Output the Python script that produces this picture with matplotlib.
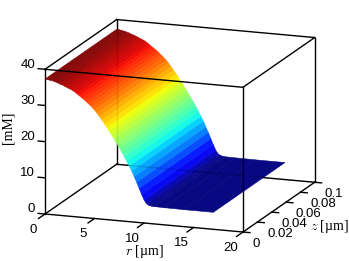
import numpy as np
import matplotlib
matplotlib.use('Agg')
from matplotlib import pyplot as plt
from matplotlib import cm
from mpl_toolkits.mplot3d import proj3d

plt.rcParams['font.family'] = ['Liberation Sans', 'DejaVu Sans']
plt.rcParams['mathtext.fontset'] = 'cm'

# concentration profile, same at every z
r_vals = [0, 0.25, 0.5, 0.75, 1, 1.25, 1.5, 1.75, 2, 2.25, 2.5, 2.75, 3, 3.25,
          3.5, 3.75, 4, 4.25, 4.5, 4.75, 5, 5.25, 5.5, 5.75, 6, 6.25, 6.5, 6.75,
          7, 7.25, 7.5, 7.75, 8, 8.25, 8.5, 8.75, 9, 9.25, 9.5, 9.75, 10, 10.25,
          10.5, 10.75, 11, 12, 14, 17]
conc = [37.3, 37.25, 37.1, 37.0, 36.8, 36.6, 36.3, 36.1, 35.8, 35.5, 35.2, 34.9,
        34.5, 34.0, 33.5, 33.0, 32.5, 31.9, 31.3, 30.7, 30.0, 29.2, 28.3, 27.4,
        26.5, 25.5, 24.5, 23.5, 22.4, 21.3, 20.2, 19.1, 17.9, 16.7, 15.4, 14.1,
        12.6, 11.1, 9.5, 7.9, 6.4, 5.4, 5.0, 4.85, 4.8, 4.75, 4.7, 4.7]
z_vals = [0, 0.1]

r_ticks = [0, 5, 10, 15, 20]
z_ticks = [0, 0.02, 0.04, 0.06, 0.08, 0.1]
z_labels = ['0', '0.02', '0.04', '0.06', '0.08', '0.1']
c_ticks = [0, 10, 20, 30, 40]

fig = plt.figure(figsize=(3.49, 2.61), dpi=100)
ax = fig.add_axes([0, 0, 1, 1], projection='3d', computed_zorder=False)
ax.set_proj_type('ortho')
ax.view_init(elev=14.55, azim=-70.1)
ax.set_box_aspect((1, 1, 0.71))
ax.set_xlim(0, 20, view_margin=0)
ax.set_ylim(0, 0.1, view_margin=0)
ax.set_zlim(0, 40, view_margin=0)
ax.set_axis_off()


def to_px(x, y, z):
    x2, y2, _ = proj3d.proj_transform(x, y, z, ax.get_proj())
    return ax.transData.transform((x2, y2))


# put the box corners where they are in the picture
fig.canvas.draw()
p0 = to_px(0, 0, 0)
p1 = to_px(20, 0, 0)
scale = 198.0 / (p1[0] - p0[0])
W, H = fig.canvas.get_width_height()
side = H * scale
cx, cy = W / 2.0, H / 2.0
# corner offset from axes centre after scaling
nx = cx + (p0[0] - cx) * (side / min(W, H))
ny = cy + (p0[1] - cy) * (side / min(W, H))
left = W / 2.0 - side / 2.0 + (45 - nx)
bottom = H / 2.0 - side / 2.0 + ((H - 214) - ny)
ax.set_position([left / W, bottom / H, side / W, side / H])

R, Z = np.meshgrid(r_vals, z_vals)
C = np.vstack([conc, conc])
colors = cm.jet((C - 4.7) / (37.3 - 4.7))
colors[..., :3] = colors[..., :3] * 0.97 + 0.03

line = dict(color='k', lw=1.0, solid_capstyle='projecting')

# back of the box goes under the surface
ax.plot([0, 0], [0.1, 0.1], [0, 40], zorder=1, **line)
ax.plot([0, 20], [0.1, 0.1], [0, 0], zorder=1, **line)
ax.plot([0, 20], [0.1, 0.1], [40, 40], zorder=1, **line)
ax.plot([20, 20], [0.1, 0.1], [0, 40], zorder=1, **line)
ax.plot([0, 0], [0, 0.1], [0, 0], zorder=1, **line)
ax.plot([20, 20], [0, 0.1], [0, 0], zorder=1, **line)
ax.plot([0, 0], [0, 0.1], [40, 40], zorder=1, **line)
ax.plot([20, 20], [0, 0.1], [40, 40], zorder=1, **line)
ax.plot([0, 20], [0, 0], [0, 0], zorder=1, **line)
ax.plot([0, 0], [0, 0], [0, 40], zorder=1, **line)

ax.plot_surface(R, Z, C, facecolors=colors, shade=False, linewidth=0.4,
                antialiased=True, rstride=1, cstride=1, zorder=2)

# back edges show faintly through the surface
ax.plot([0, 0], [0.1, 0.1], [0, 40], color='k', lw=1.0, alpha=0.08, zorder=2.5)
ax.plot([0, 20], [0.1, 0.1], [0, 0], color='k', lw=1.0, alpha=0.15, zorder=2.5)

# front edges go over it
ax.plot([0, 20], [0, 0], [40, 40], zorder=3, **line)
ax.plot([20, 20], [0, 0], [0, 40], zorder=3, **line)

for t in r_ticks:
    ax.plot([t, t], [0, -0.009], [0, 0], color='k', lw=1.0, zorder=3)
    ax.text(t - 1.2, 0, -4.6, str(t), ha='center', va='center', fontsize=9.5)
for t, s in zip(z_ticks, z_labels):
    ax.plot([20, 20.7], [t, t], [0, 0], color='k', lw=1.0, zorder=3)
    ax.text(21, t, -3, s, ha='left', va='center', fontsize=9.5)
for t in c_ticks:
    ax.plot([0, -0.7], [0, 0], [t, t], color='k', lw=1.0, zorder=3)
    ax.text(-1, 0, t + 1, str(t), ha='right', va='center', fontsize=9.5)

ax.text(10, 0, -8, '$r$ [µm]', ha='center', va='center', fontsize=10,
        family='Liberation Serif')
ax.text(25.15, 0.05, -4, '$z$ [µm]', ha='center', va='center', fontsize=10,
        family='Liberation Serif')
ax.text(-3.7, 0, 23, '[mM]', ha='center', va='center', zdir='z', fontsize=10,
        family='Liberation Serif')

fig.savefig('out.png', dpi=100)
